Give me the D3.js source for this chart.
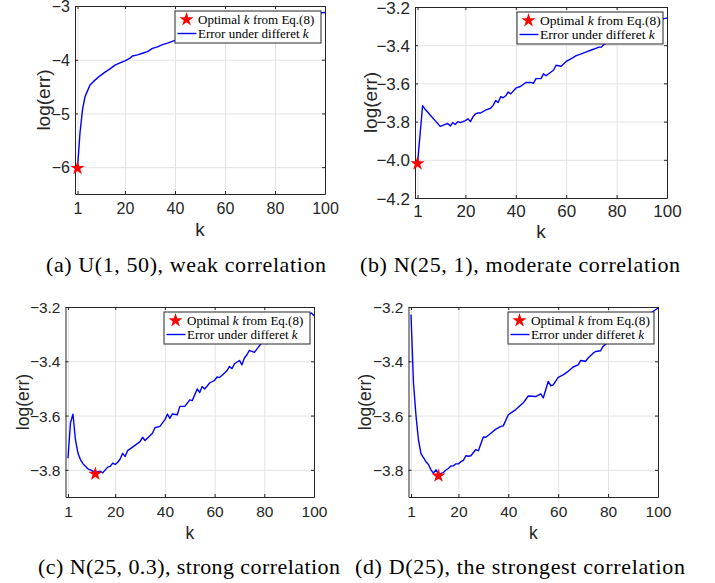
<!DOCTYPE html>
<html>
<head>
<meta charset="utf-8">
<script src="https://cdn.jsdelivr.net/npm/d3@7"></script>
<style>
  body { margin: 0; background: #fff; }
  svg { display: block; }
  .tick text { font-family: "Liberation Sans", Arial, sans-serif; fill: #262626; }
</style>
</head>
<body>
<div id="chart"></div>
<script>
// Tick values shared by all four panels
const xTicks = [1, 20, 40, 60, 80, 100];

// (a) U(1,50)
const kA = [1, 2, 3, 4, 5, 6, 8, 10, 12, 14, 16, 18, 20, 22, 23, 25, 27, 29, 31, 33, 35, 37, 40, 43, 50, 60, 70, 80, 90, 95, 97, 100];
const errA = [-6.02, -5.36, -4.93, -4.69, -4.58, -4.47, -4.38, -4.30, -4.23, -4.17, -4.10, -4.06, -4.02, -3.97, -3.93, -3.91, -3.88, -3.85, -3.79, -3.76, -3.72, -3.69, -3.64, -3.59, -3.52, -3.42, -3.33, -3.25, -3.18, -3.14, -3.13, -3.12];
const yTicksA = [-6, -5, -4, -3];
const starA = { k: 1, err: -6.02 };

// (b) N(25,1)
const kB = [1, 2, 3, 4, 5, 6, 7, 8, 9, 10, 11, 12, 13, 14, 15, 16, 17, 18, 19, 20, 21, 22, 23, 24, 25, 26, 28, 30, 31, 32, 33, 34, 35, 36, 37, 38, 40, 42, 44, 46, 47, 48, 50, 51, 52, 54, 55, 56, 58, 60, 62, 64, 66, 68, 70, 72, 73, 74, 75, 80, 85, 90, 95, 98, 100];
const errB = [-4.02, -3.87, -3.717, -3.735, -3.75, -3.765, -3.78, -3.795, -3.81, -3.825, -3.82, -3.815, -3.81, -3.823, -3.805, -3.815, -3.80, -3.805, -3.80, -3.795, -3.785, -3.80, -3.775, -3.76, -3.755, -3.755, -3.74, -3.73, -3.715, -3.69, -3.70, -3.67, -3.675, -3.665, -3.645, -3.655, -3.625, -3.615, -3.595, -3.595, -3.60, -3.575, -3.575, -3.55, -3.56, -3.54, -3.53, -3.505, -3.51, -3.485, -3.47, -3.455, -3.445, -3.435, -3.425, -3.415, -3.41, -3.41, -3.395, -3.37, -3.34, -3.31, -3.28, -3.262, -3.258];
const yTicksB = [-4.2, -4, -3.8, -3.6, -3.4, -3.2];
const starB = { k: 1, err: -4.02 };

// (c) N(25,0.3)
const kC = [1, 2, 3, 4, 5, 6, 7, 8, 9, 10, 11, 12, 13, 14, 15, 16, 17, 18, 19, 20, 21, 22, 23, 24, 25, 27, 30, 31, 32, 35, 36, 38, 40, 41, 42, 43, 45, 46, 48, 50, 51, 53, 54, 55, 56, 58, 60, 61, 62, 64, 65, 66, 67, 68, 70, 71, 72, 73, 74, 76, 78, 79, 81, 85, 90, 95, 99, 100];
const errC = [-3.757, -3.627, -3.595, -3.689, -3.738, -3.762, -3.777, -3.787, -3.796, -3.800, -3.805, -3.807, -3.808, -3.805, -3.811, -3.800, -3.790, -3.787, -3.775, -3.780, -3.772, -3.760, -3.739, -3.751, -3.729, -3.716, -3.696, -3.680, -3.692, -3.665, -3.645, -3.640, -3.615, -3.595, -3.610, -3.594, -3.597, -3.566, -3.566, -3.542, -3.545, -3.502, -3.515, -3.493, -3.502, -3.480, -3.470, -3.458, -3.460, -3.443, -3.434, -3.419, -3.427, -3.409, -3.397, -3.413, -3.388, -3.376, -3.360, -3.367, -3.343, -3.333, -3.335, -3.31, -3.28, -3.245, -3.222, -3.232];
const yTicksC = [-3.8, -3.6, -3.4, -3.2];
const starC = { k: 12, err: -3.815 };

// (d) D(25)
const kD = [1, 2, 3, 4, 5, 6, 7, 8, 9, 10, 11, 12, 13, 14, 15, 16, 17, 18, 19, 20, 21, 22, 23, 24, 25, 27, 28, 30, 31, 33, 35, 37, 38, 40, 43, 46, 48, 51, 53, 54, 55, 56, 57, 58, 60, 62, 64, 66, 68, 69, 71, 72, 74, 75, 77, 78, 80, 85, 90, 95, 99, 100];
const errD = [-3.228, -3.48, -3.60, -3.69, -3.74, -3.755, -3.77, -3.78, -3.80, -3.812, -3.80, -3.815, -3.813, -3.81, -3.80, -3.795, -3.786, -3.785, -3.778, -3.778, -3.77, -3.765, -3.748, -3.75, -3.748, -3.725, -3.73, -3.679, -3.68, -3.665, -3.65, -3.64, -3.638, -3.597, -3.578, -3.553, -3.528, -3.53, -3.52, -3.535, -3.505, -3.474, -3.49, -3.487, -3.459, -3.45, -3.437, -3.421, -3.413, -3.397, -3.40, -3.388, -3.37, -3.364, -3.361, -3.345, -3.33, -3.30, -3.265, -3.235, -3.21, -3.204];
const yTicksD = [-3.8, -3.6, -3.4, -3.2];
const starD = { k: 12, err: -3.822 };

const legendLabels = ["Optimal ", "Error under differet "];
const captionsText = [
  "(a) U(1, 50), weak correlation",
  "(b) N(25, 1), moderate correlation",
  "(c) N(25, 0.3), strong correlation",
  "(d) D(25), the strongest correlation"
];

const svg = d3.select("#chart").append("svg")
  .attr("width", 715)
  .attr("height", 583)
  .style("background", "#fff");

const axisColor = "#262626";
const gridColor = "#e3e3e3";

// MATLAB-like tick labels with a real minus sign
const fmtInt = d => String(d).replace("-", "\u2212");
const fmtOne = d => d.toFixed(1).replace("-", "\u2212");

// layout of each panel (pixel boxes)
const panels = [
  { k: kA, err: errA, star: starA, yTicks: yTicksA, yDomain: [-6.5, -3], fmt: fmtInt,
    left: 75, right: 325, top: 6, bottom: 194, tickFont: 16, labelFont: 19, legendFont: 13,
    xTickBase: 214, xLabelBase: 236, yLabelX: 45, caption: captionsText[0], capX: 186, capY: 272, capW: 280 },
  { k: kB, err: errB, star: starB, yTicks: yTicksB, yDomain: [-4.2, -3.2], fmt: fmtOne,
    left: 415, right: 667, top: 7, bottom: 198, tickFont: 17, labelFont: 19, legendFont: 13.5,
    xTickBase: 217, xLabelBase: 238, yLabelX: 372, caption: captionsText[1], capX: 520, capY: 272, capW: 320 },
  { k: kC, err: errC, star: starC, yTicks: yTicksC, yDomain: [-3.9, -3.2], fmt: fmtOne,
    left: 65.5, right: 314, top: 307, bottom: 497, tickFont: 15.5, labelFont: 17.5, legendFont: 13,
    xTickBase: 517, xLabelBase: 539, yLabelX: 24, caption: captionsText[2], capX: 189, capY: 574, capW: 302 },
  { k: kD, err: errD, star: starD, yTicks: yTicksD, yDomain: [-3.9, -3.2], fmt: fmtOne,
    left: 408.5, right: 658, top: 307, bottom: 497, tickFont: 15.5, labelFont: 17.5, legendFont: 13.3,
    xTickBase: 517, xLabelBase: 539, yLabelX: 366, caption: captionsText[3], capX: 520, capY: 574, capW: 330 }
];

function drawPanel(p) {
  const x = d3.scaleLinear().domain([0, 100]).range([p.left, p.right]);
  const y = d3.scaleLinear().domain(p.yDomain).range([p.bottom, p.top]);
  const w = p.right - p.left;
  const h = p.bottom - p.top;
  const g = svg.append("g");

  // grid lines
  g.append("g")
    .attr("transform", `translate(0,${p.bottom})`)
    .call(d3.axisBottom(x).tickValues(xTicks).tickSize(-h).tickFormat(""))
    .call(s => {
      s.select(".domain").remove();
      s.selectAll("line").attr("stroke", gridColor);
    });
  g.append("g")
    .attr("transform", `translate(${p.left},0)`)
    .call(d3.axisLeft(y).tickValues(p.yTicks).tickSize(-w).tickFormat(""))
    .call(s => {
      s.select(".domain").remove();
      s.selectAll("line").attr("stroke", gridColor);
    });

  // error curve
  const pts = p.k.map((k, i) => [k, p.err[i]]);
  g.append("path")
    .datum(pts)
    .attr("fill", "none")
    .attr("stroke", "#0000ff")
    .attr("stroke-width", 1.4)
    .attr("stroke-linejoin", "round")
    .attr("d", d3.line().x(d => x(d[0])).y(d => y(d[1])));

  // box with inward ticks on all sides
  const bottomAx = g.append("g")
    .attr("transform", `translate(0,${p.bottom})`)
    .call(d3.axisBottom(x).tickValues(xTicks).tickSizeInner(-3).tickSizeOuter(0));
  bottomAx.selectAll("text")
    .attr("y", p.xTickBase - p.bottom)
    .attr("dy", null)
    .style("font-size", p.tickFont + "px");

  const leftAx = g.append("g")
    .attr("transform", `translate(${p.left},0)`)
    .call(d3.axisLeft(y).tickValues(p.yTicks).tickSizeInner(-3).tickSizeOuter(0).tickPadding(5).tickFormat(p.fmt));
  leftAx.selectAll("text")
    .attr("dy", "0.36em")
    .style("font-size", p.tickFont + "px");

  g.append("g")
    .attr("transform", `translate(0,${p.top})`)
    .call(d3.axisTop(x).tickValues(xTicks).tickSizeInner(-3).tickSizeOuter(0).tickFormat(""));
  g.append("g")
    .attr("transform", `translate(${p.right},0)`)
    .call(d3.axisRight(y).tickValues(p.yTicks).tickSizeInner(-3).tickSizeOuter(0).tickFormat(""));

  g.selectAll(".domain, .tick line")
    .filter(function () { return this.getAttribute("stroke") !== gridColor; })
    .attr("stroke", axisColor);

  // axis labels
  g.append("text")
    .attr("x", (p.left + p.right) / 2)
    .attr("y", p.xLabelBase)
    .attr("text-anchor", "middle")
    .style("font-family", "'Liberation Sans', Arial, sans-serif")
    .style("font-size", p.labelFont + "px")
    .attr("fill", axisColor)
    .text("k");

  g.append("text")
    .attr("transform", `translate(${p.yLabelX + p.labelFont * 0.28},${(p.top + p.bottom) / 2}) rotate(-90)`)
    .attr("text-anchor", "middle")
    .style("font-family", "'Liberation Sans', Arial, sans-serif")
    .style("font-size", p.labelFont + "px")
    .attr("fill", axisColor)
    .text("log(err)");

  // optimal k marker
  const star = d3.symbol().type(d3.symbolStar).size(62);
  g.append("path")
    .attr("d", star)
    .attr("transform", `translate(${x(p.star.k)},${y(p.star.err)})`)
    .attr("fill", "#ff0000");

  // legend
  const lw = 146, lh = 32;
  const lg = g.append("g")
    .attr("transform", `translate(${p.right - 4 - lw},${p.top + 5})`);
  lg.append("rect")
    .attr("width", lw)
    .attr("height", lh)
    .attr("fill", "#fff")
    .attr("stroke", axisColor)
    .attr("stroke-width", 1);
  lg.append("path")
    .attr("d", star)
    .attr("transform", "translate(11.5,8.5)")
    .attr("fill", "#ff0000");
  lg.append("line")
    .attr("x1", 2.5).attr("x2", 21.5)
    .attr("y1", 22.5).attr("y2", 22.5)
    .attr("stroke", "#0000ff")
    .attr("stroke-width", 1.4);

  const rows = [
    [legendLabels[0], "k", " from Eq.(8)"],
    [legendLabels[1], "k", ""]
  ];
  rows.forEach((r, i) => {
    const t = lg.append("text")
      .attr("x", 23)
      .attr("y", 12.5 + i * 14.5)
      .style("font-family", "'Liberation Serif', 'Times New Roman', serif")
      .style("font-size", p.legendFont + "px")
      .attr("fill", "#000");
    t.append("tspan").text(r[0]);
    t.append("tspan").style("font-style", "italic").text(r[1]);
    if (r[2]) t.append("tspan").text(r[2]);
  });

  // caption
  svg.append("text")
    .attr("x", p.capX)
    .attr("y", p.capY)
    .attr("text-anchor", "middle")
    .attr("textLength", p.capW)
    .attr("lengthAdjust", "spacing")
    .style("font-family", "'Liberation Serif', 'Times New Roman', serif")
    .style("font-size", "22px")
    .attr("fill", "#000")
    .text(p.caption);
}

panels.forEach(drawPanel);
</script>
</body>
</html>
